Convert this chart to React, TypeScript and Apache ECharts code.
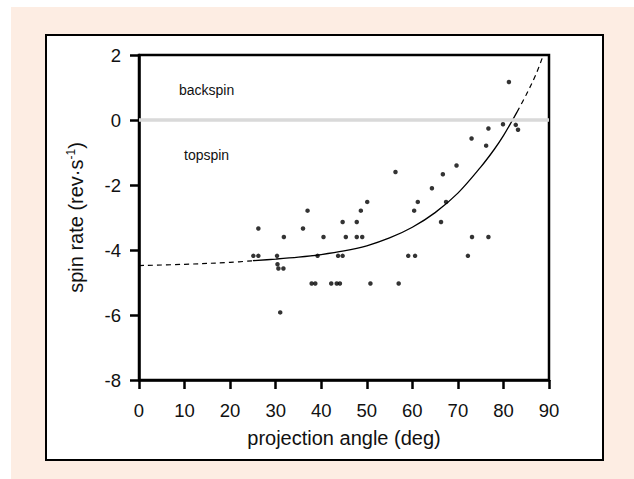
import React, { useEffect, useRef } from "react";
import * as echarts from "echarts";

// Observed data: projection angle (deg) vs spin rate (rev/s)
const angle = [
  25.1, 26.2, 26.2, 30.3, 30.4, 30.6, 31.7, 31.8, 31.0, 36.0, 37.0, 37.9, 38.7,
  39.2, 40.5, 42.2, 43.4, 44.1, 43.7, 44.7, 44.7, 45.4, 47.8, 47.8, 48.7, 49.0,
  50.1, 50.8, 56.3, 57.0, 59.1, 60.6, 60.4, 61.2, 64.3, 66.3, 66.7, 67.4, 69.7,
  72.2, 73.0, 73.1, 76.2, 76.7, 76.7, 79.9, 81.2, 82.7, 83.2,
];
const spin = [
  -4.18, -4.18, -3.34, -4.18, -4.44, -4.57, -4.57, -3.6, -5.92, -3.34, -2.79,
  -5.03, -5.03, -4.18, -3.6, -5.03, -5.03, -5.03, -4.18, -4.18, -3.14, -3.6,
  -3.14, -3.6, -2.79, -3.6, -2.52, -5.03, -1.6, -5.03, -4.18, -4.18, -2.79,
  -2.52, -2.1, -3.14, -1.67, -2.52, -1.4, -4.18, -0.57, -3.6, -0.79, -0.26,
  -3.6, -0.13, 1.17, -0.15, -0.3,
];

// Fitted curve (dashed = extrapolated)
const fitLowX = [0, 10, 20, 25];
const fitLowY = [-4.48, -4.44, -4.38, -4.33];
const fitMidX = [25, 30, 35, 40, 45, 50, 55, 60, 65, 70, 75, 78, 80, 82, 83];
const fitMidY = [-4.33, -4.28, -4.22, -4.14, -4.03, -3.87, -3.63, -3.3, -2.85, -2.25, -1.45, -0.9, -0.48, 0.0, 0.25];
const fitHighX = [83, 85, 87, 88.5];
const fitHighY = [0.25, 0.78, 1.36, 1.9];

const xTicks = [0, 10, 20, 30, 40, 50, 60, 70, 80, 90];
const yTicks = [-8, -6, -4, -2, 0, 2];

const regionLabels = ["backspin", "topspin"];

const FONT = "'Liberation Sans', Arial, Helvetica, sans-serif";

const pairs = (xs: number[], ys: number[]) => xs.map((x, i) => [x, ys[i]]);

export default function App() {
  const ref = useRef<HTMLDivElement>(null);

  useEffect(() => {
    if (!ref.current) return;
    const chart = echarts.init(ref.current, null, { renderer: "svg" });
    const axisLineStyle = { color: "#000", width: 2.5 };
    const curveBase = {
      type: "line",
      z: 3,
      smooth: 0.35,
      showSymbol: false,
      silent: true,
    };
    chart.setOption({
      animation: false,
      backgroundColor: "#ffffff",
      textStyle: { fontFamily: FONT },
      graphic: [
        {
          type: "rect",
          z: -10,
          shape: { x: 11, y: 7, width: 623, height: 472 },
          style: { fill: "#fdede3" },
        },
        {
          type: "rect",
          z: -9,
          shape: { x: 46, y: 35, width: 557, height: 425 },
          style: { fill: "#ffffff", stroke: "#000", lineWidth: 2 },
        },
        {
          type: "text",
          z: 50,
          x: 179,
          y: 90,
          style: {
            text: regionLabels[0],
            fontSize: 14,
            fontFamily: FONT,
            fill: "#111",
            verticalAlign: "middle",
          },
        },
        {
          type: "text",
          z: 50,
          x: 184,
          y: 155,
          style: {
            text: regionLabels[1],
            fontSize: 14,
            fontFamily: FONT,
            fill: "#111",
            verticalAlign: "middle",
          },
        },
      ],
      grid: {
        left: 139,
        right: 85,
        top: 55,
        bottom: 99,
        show: true,
        borderColor: "#000",
        borderWidth: 2.5,
        backgroundColor: "transparent",
      },
      xAxis: {
        type: "value",
        min: xTicks[0],
        max: xTicks[xTicks.length - 1],
        interval: xTicks[1] - xTicks[0],
        name: "projection angle (deg)",
        nameLocation: "middle",
        nameGap: 48,
        nameTextStyle: { fontSize: 20, color: "#111", fontFamily: FONT },
        axisLine: { show: true, onZero: false, lineStyle: axisLineStyle },
        axisTick: { show: true, inside: false, length: 9, lineStyle: axisLineStyle },
        axisLabel: { margin: 21, fontSize: 18.5, color: "#111", fontFamily: FONT },
        splitLine: { show: false },
      },
      yAxis: {
        type: "value",
        min: yTicks[0],
        max: yTicks[yTicks.length - 1],
        interval: yTicks[1] - yTicks[0],
        name: "{a|spin rate (rev·s}{b|-1}{a|)}",
        nameLocation: "middle",
        nameGap: 52,
        nameTextStyle: {
          color: "#111",
          fontFamily: FONT,
          rich: {
            a: { fontSize: 20, color: "#111", fontFamily: FONT, lineHeight: 22 },
            b: { fontSize: 12, color: "#111", fontFamily: FONT, verticalAlign: "top", lineHeight: 14 },
          },
        },
        axisLine: { show: true, onZero: false, lineStyle: axisLineStyle },
        axisTick: { show: true, inside: false, length: 9, lineStyle: axisLineStyle },
        axisLabel: { margin: 18, fontSize: 18.5, color: "#111", fontFamily: FONT },
        splitLine: { show: false },
      },
      series: [
        {
          type: "line",
          z: 1,
          data: [],
          silent: true,
          markLine: {
            silent: true,
            symbol: "none",
            label: { show: false },
            lineStyle: { color: "#d9d9d9", width: 3.5, type: "solid" },
            data: [{ yAxis: 0 }],
          },
        },
        {
          ...curveBase,
          data: pairs(fitLowX, fitLowY),
          lineStyle: { color: "#000", width: 1.2, type: [5, 4] },
        },
        {
          ...curveBase,
          data: pairs(fitMidX, fitMidY),
          lineStyle: { color: "#000", width: 1.3, type: "solid" },
        },
        {
          ...curveBase,
          data: pairs(fitHighX, fitHighY),
          lineStyle: { color: "#000", width: 1.2, type: [5, 4] },
        },
        {
          type: "scatter",
          z: 4,
          data: pairs(angle, spin),
          symbol: "circle",
          symbolSize: 4.5,
          itemStyle: { color: "#000" },
        },
      ],
    });
    return () => chart.dispose();
  }, []);

  return (
    <div
      ref={ref}
      style={{ position: "fixed", left: 0, top: 0, width: 634, height: 479 }}
    />
  );
}
